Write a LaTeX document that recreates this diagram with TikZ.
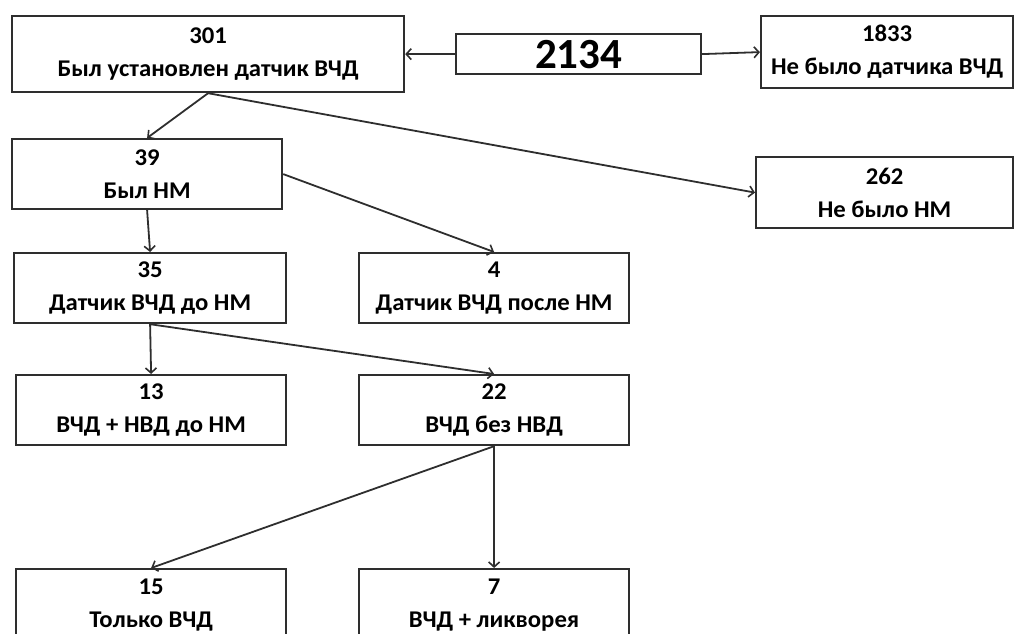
\documentclass[tikz,border=0pt]{standalone}
\usepackage{fontspec}
\setmainfont{Carlito}
\newfontfamily\boxfont[FakeStretch=1.03]{Carlito}
\usetikzlibrary{arrows.meta}
\begin{document}
\begin{tikzpicture}[x=1pt,y=-1pt,
  box/.style={draw=black!82,line width=2.2pt,rectangle,inner sep=0pt,align=center,
    font=\boxfont\bfseries\fontsize{24}{33}\selectfont,anchor=north west},
  conn/.style={draw=black!82,line width=1.8pt,-{Straight Barb[length=5pt,width=11pt,line width=1.6pt]}}]
\useasboundingbox (0,0) rectangle (1020,634);
\clip (0,0) rectangle (1020,634);
\node[box,minimum width=392pt,minimum height=76pt] (n301) at (11,15) {301\\Был установлен датчик ВЧД};
\node[box,minimum width=245pt,minimum height=40pt,font=\bfseries\fontsize{43}{43}\selectfont] (n2134) at (455,33) {2134};
\node[box,minimum width=252pt,minimum height=72pt] (n1833) at (760,15) {1833\\Не было датчика ВЧД};
\node[box,minimum width=270pt,minimum height=70pt] (n39) at (11,138) {39\\Был НМ};
\node[box,minimum width=257pt,minimum height=71pt] (n262) at (755,156) {262\\Не было НМ};
\node[box,minimum width=272pt,minimum height=70pt] (n35) at (13,252) {35\\Датчик ВЧД до НМ};
\node[box,minimum width=270pt,minimum height=70pt] (n4) at (358,252) {4\\Датчик ВЧД после НМ};
\node[box,minimum width=270pt,minimum height=70pt] (n13) at (15,374) {13\\ВЧД + НВД до НМ};
\node[box,minimum width=270pt,minimum height=70pt] (n22) at (358,374) {22\\ВЧД без НВД};
\node[box,minimum width=270pt,minimum height=72pt] (n15) at (15,568) {15\\Только ВЧД};
\node[box,minimum width=270pt,minimum height=72pt] (n7) at (358,568) {7\\ВЧД + ликворея};
\draw[conn] (n2134.west) -- (n301.east);
\draw[conn] (n2134.east) -- (n1833.west);
\draw[conn] (n301.south) -- (n39.north);
\draw[conn] (n301.south) -- (n262.west);
\draw[conn] (n39.south) -- (n35.north);
\draw[conn] (n39.east) -- (n4.north);
\draw[conn] (n35.south) -- (n13.north);
\draw[conn] (n35.south) -- (n22.north);
\draw[conn] (n22.south) -- (n15.north);
\draw[conn] (n22.south) -- (n7.north);
\end{tikzpicture}
\end{document}
